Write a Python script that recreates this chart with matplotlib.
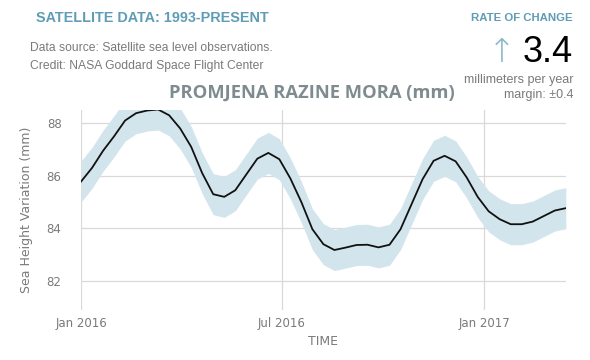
import numpy as np
import pandas as pd
import matplotlib
matplotlib.use("Agg")
import matplotlib.pyplot as plt

# Satellite sea level, ~10-day steps from Jan 2016
start_date = "2016-01-01"
step_days = 10
sea_level = [85.78, 86.30, 86.95, 87.50, 88.10, 88.38, 88.48, 88.52, 88.30, 87.80,
             87.10, 86.10, 85.30, 85.20, 85.45, 86.05, 86.65, 86.87, 86.63, 85.90,
             85.00, 83.97, 83.40, 83.18, 83.27, 83.37, 83.38, 83.28, 83.38, 83.97,
             84.92, 85.87, 86.57, 86.76, 86.55, 85.94, 85.20, 84.65, 84.35, 84.16,
             84.16, 84.26, 84.47, 84.68, 84.77]
margin_mm = 0.78
y_ticks = [82, 84, 86, 88]
x_ticks = ["2016-01-01", "2016-07-01", "2017-01-01"]
x_tick_labels = ["Jan 2016", "Jul 2016", "Jan 2017"]

dates = pd.date_range(start_date, periods=len(sea_level), freq=f"{step_days}D")
vals = np.array(sea_level)

teal = "#5f9db6"
gray = "#7a7a7a"
grid_c = "#d9d9d9"
band_c = "#d3e5ec"

fig = plt.figure(figsize=(5.9, 3.6), dpi=100)
ax = fig.add_axes([0.1373, 0.1389, 0.8217, 0.5555])

ax.fill_between(dates, vals - margin_mm, vals + margin_mm, color=band_c, lw=0, zorder=1)
ax.plot(dates, vals, color="#111111", lw=1.3, zorder=3)

ax.set_ylim(80.9, 88.5)
ax.set_xlim(dates[0], dates[-1])
ax.set_yticks(y_ticks)
ax.set_xticks(pd.to_datetime(x_ticks))
ax.set_xticklabels(x_tick_labels)
ax.grid(True, color=grid_c, lw=0.9, zorder=0)
ax.set_axisbelow(True)
for s in ax.spines.values():
    s.set_visible(False)
ax.tick_params(length=0, colors=gray, labelsize=8.5)
ax.tick_params(axis="y", pad=14)
ax.tick_params(axis="x", pad=5)
ax.set_xlabel("TIME", color=gray, fontsize=9, labelpad=4)
ax.set_ylabel("Sea Height Variation (mm)", color=gray, fontsize=9, labelpad=10)

fnt = ["Liberation Sans", "DejaVu Sans"]
fig.text(36 / 590, 1 - 18 / 360, "SATELLITE DATA: 1993-PRESENT", color=teal,
         fontsize=10.4, fontweight="bold", family=fnt, va="center")
fig.text(30 / 590, 1 - 48 / 360, "Data source: Satellite sea level observations.",
         color=gray, fontsize=8.7, family=fnt, va="center")
fig.text(30 / 590, 1 - 66 / 360, "Credit: NASA Goddard Space Flight Center",
         color=gray, fontsize=8.7, family=fnt, va="center")
fig.text(573 / 590, 1 - 18 / 360, "RATE OF CHANGE", color=teal, fontsize=8.2,
         fontweight="bold", family=fnt, ha="right", va="center")
fig.text(573 / 590, 1 - 52 / 360, "3.4", color="black", fontsize=26,
         family=fnt, ha="right", va="center")
fig.text(516 / 590, 1 - 52 / 360, "\u2191", color="#8bb8c8", fontsize=24,
         family=["DejaVu Sans"], fontweight="light", ha="right", va="center")
fig.text(573 / 590, 1 - 80 / 360, "millimeters per year", color=gray, fontsize=9,
         family=fnt, ha="right", va="center")
fig.text(573 / 590, 1 - 95 / 360, "margin: \u00b10.4", color=gray, fontsize=9,
         family=fnt, ha="right", va="center")
fig.text(312 / 590, 1 - 93 / 360, "PROMJENA RAZINE MORA (mm)", color="#7f8c8f",
         fontsize=13.2, fontweight="bold", family=["Open Sans", "DejaVu Sans"],
         ha="center", va="center")

fig.savefig("out.png", dpi=100)
